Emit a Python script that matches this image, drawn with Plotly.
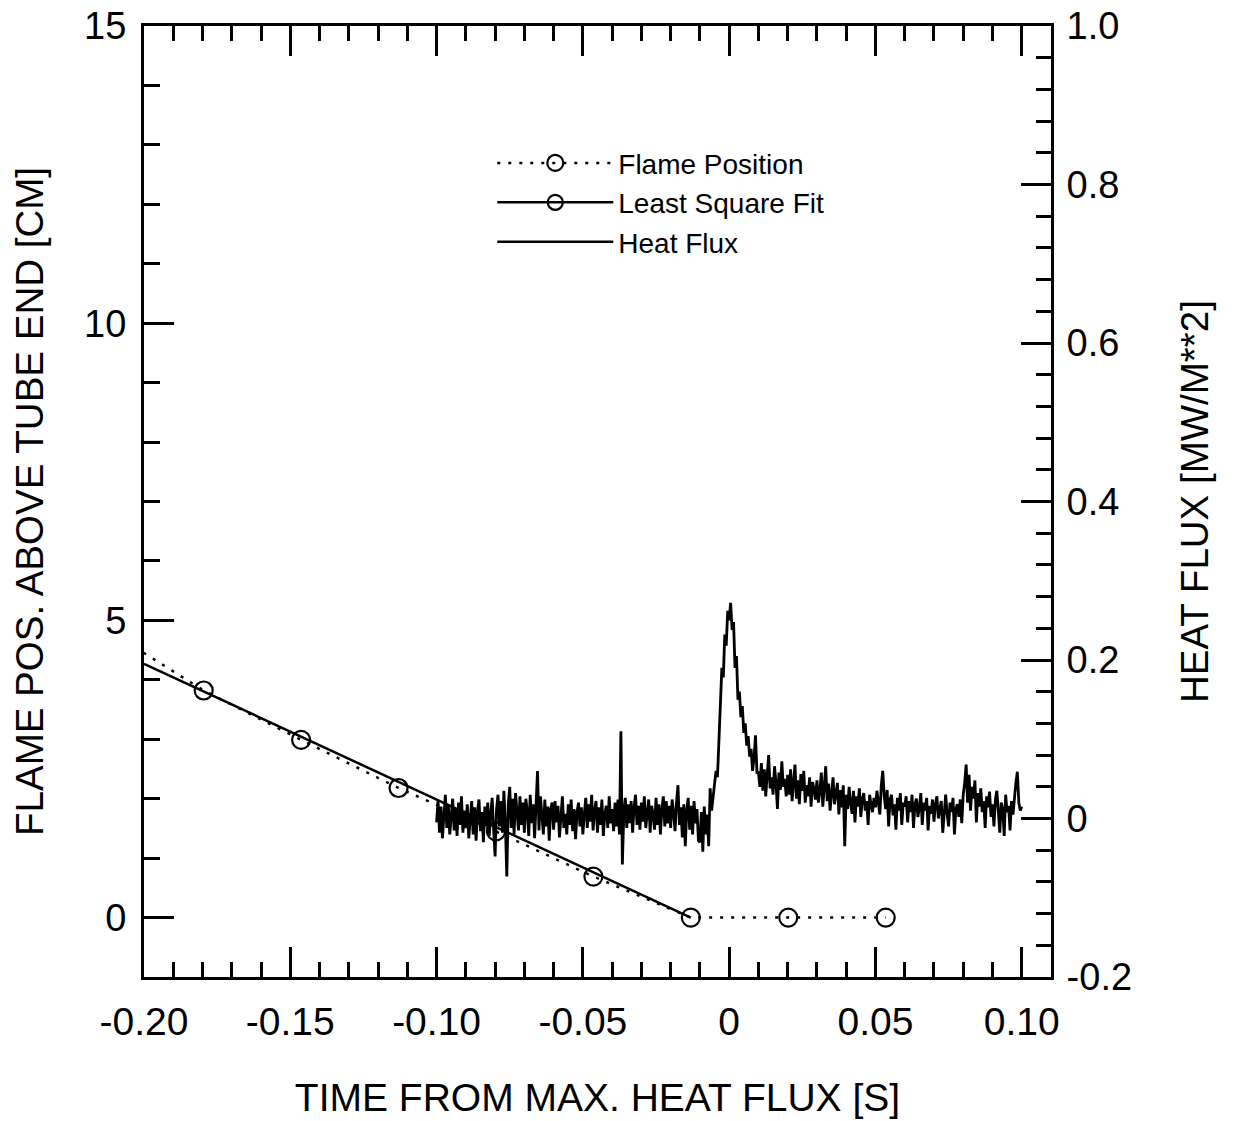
import numpy as np
import plotly.graph_objects as go

# ---------------- data ----------------
# Flame position (cm above tube end) vs time from max heat flux (s)
flame_t = [-0.2129, -0.1796, -0.1463, -0.1130, -0.0797, -0.0464, -0.0131, 0.0202, 0.0535]
flame_y = [4.85, 3.82, 2.99, 2.18, 1.45, 0.69, 0.00, 0.00, 0.00]

# Least square fit line of the flame position
fit_t = [-0.2000, -0.0131]
fit_y = [4.27, 0.00]

# Heat flux record, kW/m^2, sampled every 0.5 ms from t = -0.100 s to t = +0.100 s
HF_T0 = -0.100
HF_DT = 0.0005
heat_flux_kw = [
    # -0.100 .. -0.0905
    -5, 22, -18, 15, -25, 8, 30, -12, 18, -20, 5, 25, -15, 12, -22, 20, -8, 28, -18, 10,
    # -0.090 .. -0.0805
    -12, 18, -25, 6, 22, -20, 14, -28, 10, 24, -16, 8, -30, 15, -10, 20, -22, 5, 26, -14,
    # -0.080 .. -0.0705
    -48, 12, 30, -10, 22, -18, 35, -5, -73, 18, 40, -12, 25, -20, 32, 8, -15, 28, -8, 20,
    # -0.070 .. -0.0605
    -18, 25, 10, -22, 30, -6, 18, -25, 22, 60, -15, 28, 5, -20, 24, -10, 15, -28, 12, 20,
    # -0.060 .. -0.0505
    -14, 22, -5, 16, -24, 10, 28, -12, 6, -20, 18, -8, 24, -16, 12, -26, 8, 20, -10, 14,
    # -0.050 .. -0.0405
    -20, 6, 26, -12, 18, -4, 30, -15, 10, 22, -18, 14, -8, 24, -22, 6, 16, -12, 28, -6,
    # -0.040 .. -0.0305
    12, -16, 20, -10, 24, -20, 110, -58, 8, 26, -12, 18, -6, 22, -18, 14, 30, -8, 16, -14,
    # -0.030 .. -0.0205
    20, -4, 28, -12, 10, 24, -18, 16, 6, -14, 26, -8, 18, -20, 12, 28, -10, 22, -6, 16,
    # -0.020 .. -0.0105
    -12, 24, 8, -16, 20, 42, -8, 14, -24, 18, -35, 10, 26, -14, 16, -20, 22, -6, 12, -28,
    # -0.010 .. -0.0055
    -30, 8, -42, 15, -20, 5, -35, 38, 10, 25,
    # -0.005 .. +0.0095 (main peak)
    45, 60, 52, 95, 128, 190, 178, 232, 218, 262,
    250, 272, 238, 248, 190, 205, 150, 160, 128, 142,
    108, 120, 92, 104, 78, 88, 60, 76, 105, 58,
    # 0.010 .. 0.0195
    58, 40, 70, 35, 62, 28, 55, 80, 38, 52, 30, 66, 45, 12, 58, 36, 72, 40, 50, 28,
    # 0.020 .. 0.0295
    55, 30, 62, 22, 45, 68, 25, 48, 18, 56, 35, 60, 20, 42, 28, 52, 15, 46, 38, 24,
    # 0.030 .. 0.0395
    48, 20, 35, 58, 15, 40, 66, 22, 44, 10, 38, 52, 18, 30, 45, 5, 36, 14, 42, -35,
    # 0.040 .. 0.0495
    30, 12, 40, 20, 6, 35, -5, 28, 15, 38, 2, 25, 32, 10, 22, -8, 30, 18, 8, 26,
    # 0.050 .. 0.0595
    14, 35, 20, 5, 42, 60, 28, 12, 36, -10, 24, 30, 4, 18, -14, 26, 10, 32, -8, 20,
    # 0.060 .. 0.0695
    15, 28, -5, 22, 8, 30, -12, 18, 25, 2, 14, 32, -8, 20, 10, 26, -15, 16, 6, 24,
    # 0.070 .. 0.0795
    -4, 18, 28, 0, 12, 22, -18, 14, 30, 6, -10, 20, 8, 26, -20, 12, 18, 2, 24, -6,
    # 0.080 .. 0.0895
    30, 45, 68, 20, 55, 10, 40, 25, 48, -5, 32, 15, 38, 8, 22, -12, 28, 14, 34, 2,
    # 0.090 .. 0.100
    18, -10, 24, 35, 6, -18, 20, 12, -22, 30, 8, 16, -15, 22, 5, 28, 45, 59, 20, 10, 15,
]

x_tickvals = [-0.20, -0.15, -0.10, -0.05, 0.0, 0.05, 0.10]
x_ticktext = ["-0.20", "-0.15", "-0.10", "-0.05", "0", "0.05", "0.10"]
y_tickvals = [0, 5, 10, 15]
y_ticktext = ["0", "5", "10", "15"]
y2_tickvals = [-0.2, 0.0, 0.2, 0.4, 0.6, 0.8, 1.0]
y2_ticktext = ["-0.2", "0", "0.2", "0.4", "0.6", "0.8", "1.0"]

# ---------------- figure ----------------
hf_t = HF_T0 + HF_DT * np.arange(len(heat_flux_kw))
hf_mw = np.array(heat_flux_kw) / 1000.0

FONT = "Liberation Sans, Arial, Helvetica, sans-serif"
BLACK = "#000000"

fig = go.Figure()

# Heat flux (right axis)
fig.add_trace(go.Scatter(
    x=hf_t, y=hf_mw, yaxis="y2", mode="lines",
    line=dict(color=BLACK, width=2.8), name="Heat Flux", showlegend=False,
))

# Flame position (dotted with open circles)
fig.add_trace(go.Scatter(
    x=flame_t, y=flame_y, mode="lines+markers",
    line=dict(color=BLACK, width=2.5, dash="3px,8px"),
    marker=dict(symbol="circle-open", size=18, color=BLACK, line=dict(width=2.2, color=BLACK)),
    name="Flame Position", showlegend=True,
))

# Least square fit (solid line)
fig.add_trace(go.Scatter(
    x=fit_t, y=fit_y, mode="lines",
    line=dict(color=BLACK, width=2.5),
    name="Least Square Fit", showlegend=False,
))

# legend-only entries
fig.add_trace(go.Scatter(
    x=[None], y=[None], mode="lines+markers",
    line=dict(color=BLACK, width=2.5),
    marker=dict(symbol="circle-open", size=15, color=BLACK, line=dict(width=2.2, color=BLACK)),
    name="Least Square Fit", showlegend=True,
))
fig.add_trace(go.Scatter(
    x=[None], y=[None], mode="lines",
    line=dict(color=BLACK, width=2.5),
    name="Heat Flux", showlegend=True,
))

# the page body adds a small offset, so the figure is 8 px smaller and margins shifted
fig.update_layout(
    width=1230, height=1113,
    margin=dict(l=136, r=187, t=18, b=144, autoexpand=False),
    paper_bgcolor="white", plot_bgcolor="white",
    font=dict(family=FONT, color=BLACK, size=38),
    legend=dict(
        x=0.384, y=0.882, xanchor="left", yanchor="top",
        bgcolor="rgba(0,0,0,0)", borderwidth=0,
        font=dict(family=FONT, size=28, color=BLACK),
        itemwidth=116, tracegroupgap=0,
    ),
    xaxis=dict(
        range=[-0.20, 0.11], showgrid=False, zeroline=False, automargin=False,
        showline=True, linewidth=3, linecolor=BLACK, mirror="ticks",
        ticks="inside", ticklen=30, tickwidth=2.5, tickcolor=BLACK,
        tickmode="array", tickvals=x_tickvals, ticktext=x_ticktext,
        tickfont=dict(size=39), ticklabelstandoff=8, ticklabeloverflow="allow",
        minor=dict(dtick=0.01, tick0=0, ticks="inside", ticklen=15, tickwidth=2.5, tickcolor=BLACK),
        title=dict(text="TIME FROM MAX. HEAT FLUX [S]", font=dict(size=39), standoff=42),
    ),
    yaxis=dict(
        range=[-1, 15], showgrid=False, zeroline=False, automargin=False,
        showline=True, linewidth=3, linecolor=BLACK,
        ticks="inside", ticklen=30, tickwidth=2.5, tickcolor=BLACK,
        tickmode="array", tickvals=y_tickvals, ticktext=y_ticktext,
        tickfont=dict(size=38), ticklabelstandoff=7, ticklabeloverflow="allow",
        minor=dict(dtick=1, tick0=0, ticks="inside", ticklen=16, tickwidth=2.5, tickcolor=BLACK),
        title=dict(text="FLAME POS. ABOVE TUBE END [CM]", font=dict(size=38.5), standoff=34),
    ),
    yaxis2=dict(
        range=[-0.2, 1.0], overlaying="y", side="right", automargin=False,
        showgrid=False, zeroline=False,
        showline=True, linewidth=3, linecolor=BLACK,
        ticks="inside", ticklen=30, tickwidth=2.5, tickcolor=BLACK,
        tickmode="array", tickvals=y2_tickvals, ticktext=y2_ticktext,
        tickfont=dict(size=38), ticklabelstandoff=5, ticklabeloverflow="allow",
        minor=dict(dtick=0.04, tick0=0, ticks="inside", ticklen=15, tickwidth=2.5, tickcolor=BLACK),
        title=dict(text="HEAT FLUX [MW/M**2]", font=dict(size=38.5), standoff=50),
    ),
)

fig.write_html("out.html")
